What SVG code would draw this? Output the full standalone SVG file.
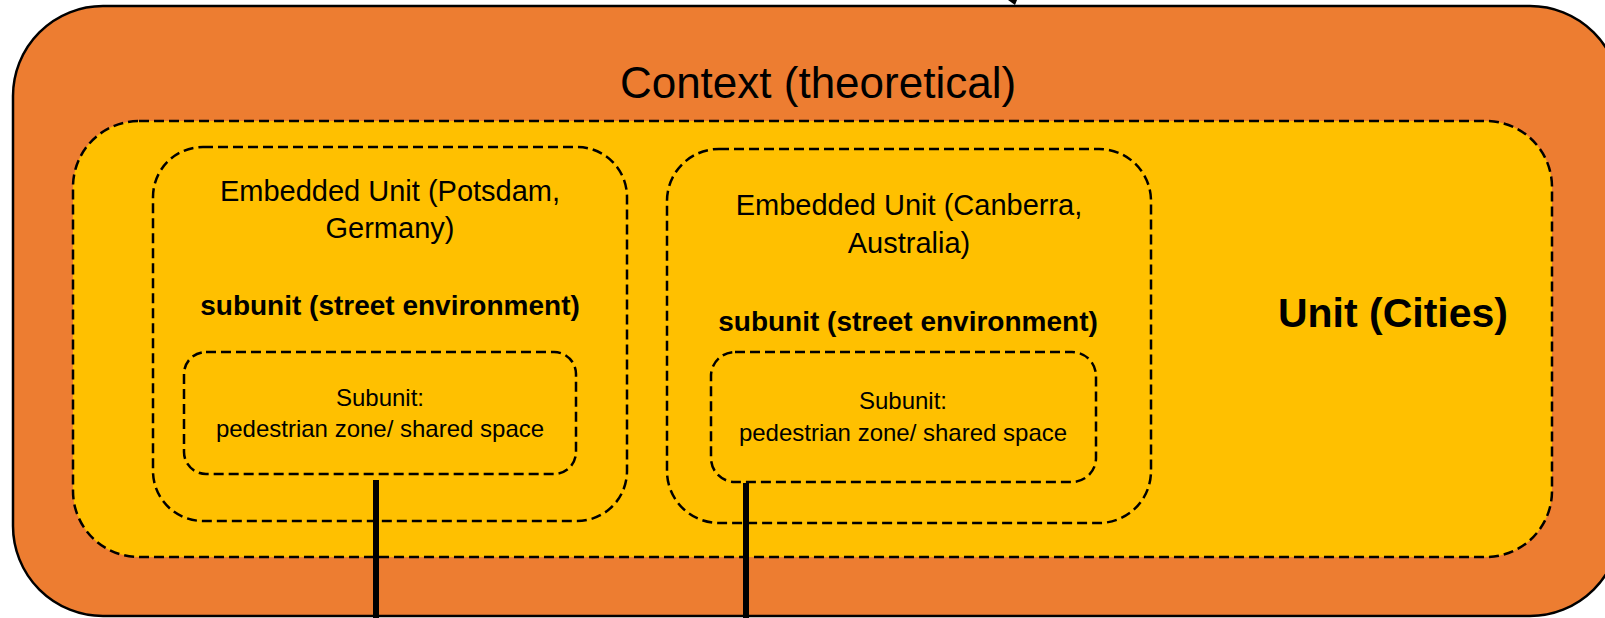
<svg xmlns="http://www.w3.org/2000/svg" width="1605" height="618" viewBox="0 0 1605 618">
<style>
.t{font-family:"Liberation Sans",Arial,sans-serif;fill:#000;text-anchor:middle}
.b{font-weight:bold}
.dash{fill:none;stroke:#000;stroke-width:2.5;stroke-dasharray:10 5}
.conn{stroke:#000;stroke-width:6;fill:none}
</style>
<rect width="1605" height="618" fill="#fff"/>
<g id="context">
<rect x="13" y="6" width="1607" height="610" rx="90" ry="90" fill="#ED7D31" stroke="#000" stroke-width="2.5"/>
<text class="t" x="818" y="98" font-size="44">Context (theoretical)</text>
</g>
<g id="unit">
<rect x="73" y="121" width="1479" height="436" rx="66" ry="66" fill="#FFC000"/>
<rect class="dash" x="73" y="121" width="1479" height="436" rx="66" ry="66"/>
<text class="t b" x="1393" y="327" font-size="41">Unit (Cities)</text>
</g>
<g id="potsdam">
<rect class="dash" x="153" y="147" width="474" height="374" rx="50" ry="50"/>
<text class="t" x="390" y="201" font-size="29">Embedded Unit (Potsdam,</text>
<text class="t" x="390" y="238" font-size="29">Germany)</text>
<text class="t b" x="390" y="315" font-size="28">subunit (street environment)</text>
</g>
<g id="potsdam-subunit">
<rect class="dash" x="184" y="352" width="392" height="122" rx="22" ry="22"/>
<text class="t" x="380" y="406" font-size="24">Subunit:</text>
<text class="t" x="380" y="437" font-size="24">pedestrian zone/ shared space</text>
</g>
<g id="canberra">
<rect class="dash" x="667" y="149" width="484" height="374" rx="52" ry="52"/>
<text class="t" x="909" y="215" font-size="29">Embedded Unit (Canberra,</text>
<text class="t" x="909" y="253" font-size="29">Australia)</text>
<text class="t b" x="908" y="331" font-size="28">subunit (street environment)</text>
</g>
<g id="canberra-subunit">
<rect class="dash" x="711" y="352" width="385" height="130" rx="24" ry="24"/>
<text class="t" x="903" y="409" font-size="24">Subunit:</text>
<text class="t" x="903" y="441" font-size="24">pedestrian zone/ shared space</text>
</g>
<g id="connectors">
<line class="conn" x1="376" y1="480" x2="376" y2="618"/>
<line class="conn" x1="746" y1="483" x2="746" y2="618"/>
<polygon points="1008,0 1017,0 1015,5" fill="#000"/>
</g>
</svg>
